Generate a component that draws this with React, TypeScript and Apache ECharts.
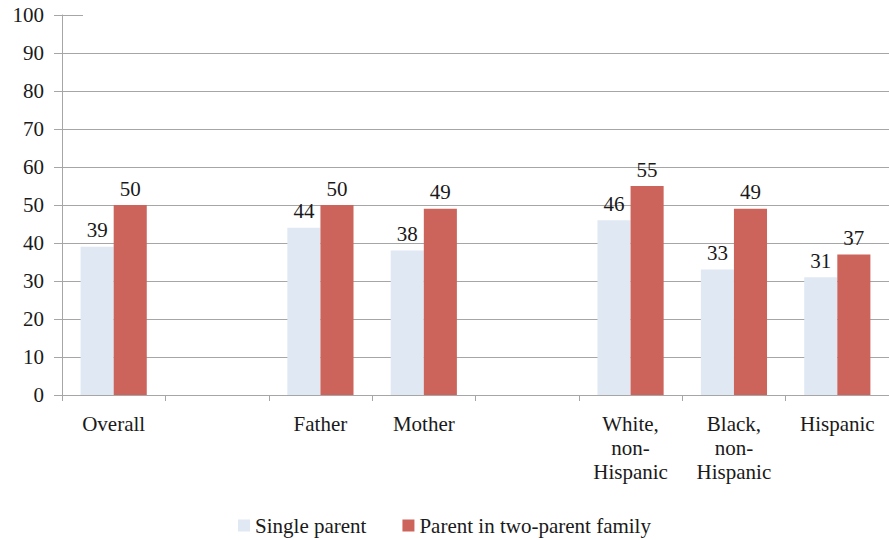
import React, { useEffect, useRef } from "react";
import * as echarts from "echarts";

const categories = [
  "Overall",
  "",
  "Father",
  "Mother",
  "",
  "White,\nnon-\nHispanic",
  "Black,\nnon-\nHispanic",
  "Hispanic",
];
const singleParent: (number | string)[] = [39, "-", 44, 38, "-", 46, 33, 31];
const twoParentFamily: (number | string)[] = [50, "-", 50, 49, "-", 55, 49, 37];
const seriesNames = ["Single parent", "Parent in two-parent family"];
const yMax = 100;
const yStep = 10;

const FONT = "Times New Roman, Tinos, DejaVu Serif, serif";
const GRID_COLOR = "#a6a6a6";

export default function App() {
  const ref = useRef<HTMLDivElement>(null);

  useEffect(() => {
    document.body.style.margin = "0";
    if (!ref.current) return;
    const chart = echarts.init(ref.current, undefined, { renderer: "svg" });

    // every split line is drawn except the one at the top of the axis
    const splitColors = Array.from({ length: yMax / yStep + 1 }, (_, i) =>
      i === yMax / yStep ? "transparent" : GRID_COLOR
    );

    const labelStyle = {
      show: true,
      position: "top" as const,
      distance: 6,
      color: "#1a1a1a",
      fontFamily: FONT,
      fontSize: 21,
    };

    chart.setOption({
      animation: false,
      backgroundColor: "#ffffff",
      textStyle: { fontFamily: FONT },
      grid: { left: 62, top: 15, width: 832, bottom: 145, containLabel: false },
      legend: {
        bottom: -1,
        left: "center",
        itemWidth: 12,
        itemHeight: 12,
        itemGap: 36,
        icon: "rect",
        textStyle: { fontFamily: FONT, fontSize: 21, color: "#1a1a1a" },
        data: seriesNames,
      },
      xAxis: {
        type: "category",
        data: categories,
        axisLine: { lineStyle: { color: GRID_COLOR, width: 1 } },
        axisTick: { show: true, length: 6, lineStyle: { color: GRID_COLOR } },
        axisLabel: {
          fontFamily: FONT,
          fontSize: 21,
          color: "#1a1a1a",
          margin: 17,
          lineHeight: 24,
          interval: 0,
        },
      },
      yAxis: {
        type: "value",
        min: 0,
        max: yMax,
        interval: yStep,
        axisLine: { show: true, lineStyle: { color: GRID_COLOR, width: 1 } },
        axisTick: { show: true, length: 8, lineStyle: { color: GRID_COLOR } },
        splitLine: { show: true, lineStyle: { color: splitColors, width: 1 } },
        axisLabel: {
          fontFamily: FONT,
          fontSize: 21,
          color: "#1a1a1a",
          margin: 18,
        },
      },
      graphic: [
        {
          type: "line",
          shape: { x1: 54, y1: 15.5, x2: 83, y2: 15.5 },
          style: { stroke: GRID_COLOR, lineWidth: 1 },
        },
      ],
      series: [
        {
          name: seriesNames[0],
          type: "bar",
          data: singleParent,
          barGap: "0%",
          barCategoryGap: "36%",
          itemStyle: { color: "#dfe8f3" },
          label: labelStyle,
        },
        {
          name: seriesNames[1],
          type: "bar",
          data: twoParentFamily,
          itemStyle: { color: "#cd645c" },
          label: labelStyle,
        },
      ],
    });

    return () => chart.dispose();
  }, []);

  return <div ref={ref} style={{ width: 889, height: 540 }} />;
}
